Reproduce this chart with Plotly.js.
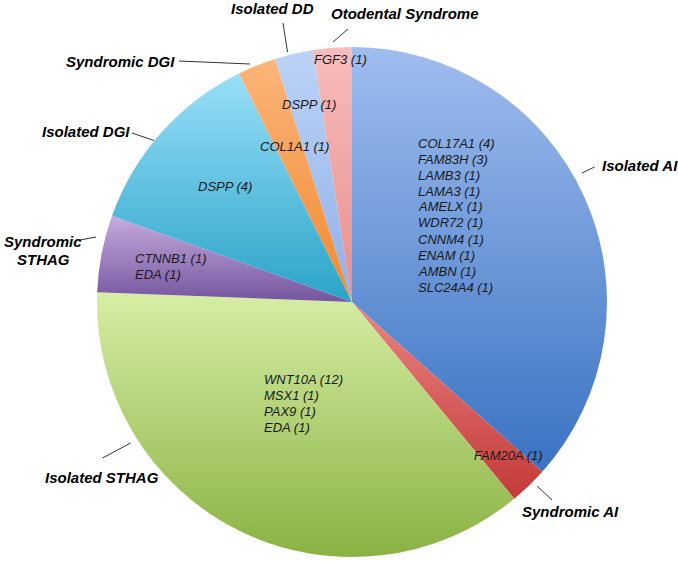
<!DOCTYPE html>
<html>
<head>
<meta charset="utf-8">
<script src="https://cdn.plot.ly/plotly-3.0.1.min.js"></script>
<style>html,body{margin:0;padding:0;background:#fff;}#chart{width:678px;height:561px;}</style>
</head>
<body>
<div id="chart"></div>
<script>
// ---- data ----
const categories = ["Isolated AI", "Syndromic AI", "Isolated STHAG", "Syndromic STHAG",
                    "Isolated DGI", "Syndromic DGI", "Isolated DD", "Otodental Syndrome"];
const values = [15, 1, 15, 2, 5, 1, 1, 1];
const genesIsolatedAI = ["COL17A1 (4)", "FAM83H (3)", "LAMB3 (1)", "LAMA3 (1)", "AMELX (1)",
                         "WDR72 (1)", "CNNM4 (1)", "ENAM (1)", "AMBN (1)", "SLC24A4 (1)"];
const genesSyndromicAI = ["FAM20A (1)"];
const genesIsolatedSTHAG = ["WNT10A (12)", "MSX1 (1)", "PAX9 (1)", "EDA (1)"];
const genesSyndromicSTHAG = ["CTNNB1 (1)", "EDA (1)"];
const genesIsolatedDGI = ["DSPP (4)"];
const genesSyndromicDGI = ["COL1A1 (1)"];
const genesIsolatedDD = ["DSPP (1)"];
const genesOtodental = ["FGF3 (1)"];

// ---- styling / layout helpers ----
const W = 678, H = 561;
const colors = ["#6e98db", "#dc5553", "#bcd87c", "#9b7cc0", "#5cc0e2", "#f39c50", "#a3c1f1", "#f1a2a2"];
const gradTop = ["#9fbdef", "#ea8482", "#d6eea5", "#c5abdd", "#99dff8", "#fbb57a", "#bcd3f6", "#f8bcbc"];
const gradBottom = ["#3a72c2", "#c33a38", "#8ab243", "#74559e", "#2aa3c8", "#f2892f", "#8fb0e8", "#e88e8e"];
const cx = 352, cy = 302, R = 255;
const px = x => x / W;
const py = y => 1 - y / H;

const geneFont = {family: "Liberation Sans, Arial, sans-serif", size: 13, color: "#1a1a1a"};
const catFont = {family: "Liberation Sans, Arial, sans-serif", size: 15, color: "#000"};

const annotations = [];
function geneBlock(lines, x, y0, step) {
  lines.forEach((t, i) => {
    annotations.push({text: "<i>" + t + "</i>", x: px(x), y: py(y0 + i * step), xref: "paper", yref: "paper",
      xanchor: "left", yanchor: "middle", showarrow: false, font: geneFont});
  });
}
geneBlock(genesIsolatedAI, 416, 143, 16);
geneBlock(genesSyndromicAI, 472, 455, 16);
geneBlock(genesIsolatedSTHAG, 262, 379, 16);
geneBlock(genesSyndromicSTHAG, 133, 258, 16.5);
geneBlock(genesIsolatedDGI, 196, 186, 16);
geneBlock(genesSyndromicDGI, 258, 147, 16);
geneBlock(genesIsolatedDD, 280, 105, 16);
geneBlock(genesOtodental, 312, 60, 16);

function catLabel(text, x, y, anchor) {
  annotations.push({text: "<b><i>" + text + "</i></b>", x: px(x), y: py(y), xref: "paper", yref: "paper",
    xanchor: anchor || "left", yanchor: "middle", showarrow: false, font: catFont, align: "center"});
}
catLabel(categories[0], 600, 165);
catLabel(categories[1], 520, 511);
catLabel(categories[2], 43, 477);
catLabel("Syndromic", 2, 241);
catLabel("STHAG", 15, 259);
catLabel(categories[4], 40, 131);
catLabel(categories[5], 64, 61);
catLabel(categories[6], 229, 9);
catLabel(categories[7], 329, 14);

const leaders = [
  [582, 173, 594.5, 167],
  [537, 486, 552, 500],
  [102.5, 458, 130.6, 443],
  [80, 240, 96, 237],
  [132, 133, 154, 140.5],
  [179, 61, 250, 64],
  [283, 23, 287.5, 52],
  [333, 42, 348, 29]
];
const shapes = leaders.map(l => ({type: "line", xref: "paper", yref: "paper",
  x0: px(l[0]), y0: py(l[1]), x1: px(l[2]), y1: py(l[3]), line: {color: "#333", width: 1}}));

const trace = {
  type: "pie",
  labels: categories,
  values: values,
  sort: false,
  direction: "clockwise",
  rotation: 0,
  textinfo: "none",
  hoverinfo: "label+value",
  marker: {colors: colors, line: {color: "rgba(255,255,255,0)", width: 0}},
  domain: {x: [px(cx - R), px(cx + R)], y: [py(cy + R), py(cy - R)]},
  showlegend: false
};

const layout = {
  width: W, height: H,
  margin: {l: 0, r: 0, t: 0, b: 0},
  paper_bgcolor: "#fff",
  showlegend: false,
  annotations: annotations,
  shapes: shapes
};

Plotly.newPlot("chart", [trace], layout, {displayModeBar: false, staticPlot: true}).then(gd => {
  // per-slice vertical gradient fill (glossy look of the original)
  const NS = "http://www.w3.org/2000/svg";
  const svgEl = gd.querySelector("svg.main-svg");
  let defs = svgEl.querySelector("defs");
  if (!defs) { defs = document.createElementNS(NS, "defs"); svgEl.insertBefore(defs, svgEl.firstChild); }
  gradTop.forEach((c, i) => {
    const lg = document.createElementNS(NS, "linearGradient");
    lg.setAttribute("id", "sliceGrad" + i);
    lg.setAttribute("x1", "0"); lg.setAttribute("y1", "0");
    lg.setAttribute("x2", "0"); lg.setAttribute("y2", "1");
    const s0 = document.createElementNS(NS, "stop");
    s0.setAttribute("offset", "0"); s0.setAttribute("stop-color", c);
    const s1 = document.createElementNS(NS, "stop");
    s1.setAttribute("offset", "1"); s1.setAttribute("stop-color", gradBottom[i]);
    lg.appendChild(s0); lg.appendChild(s1);
    defs.appendChild(lg);
  });
  gd.querySelectorAll("g.slice").forEach((g, k) => {
    const d = g.__data__;
    const idx = (d && typeof d.i === "number") ? d.i : k;
    const path = g.querySelector("path.surface");
    if (path) path.style.fill = "url(#sliceGrad" + idx + ")";
  });
});
</script>
</body>
</html>
